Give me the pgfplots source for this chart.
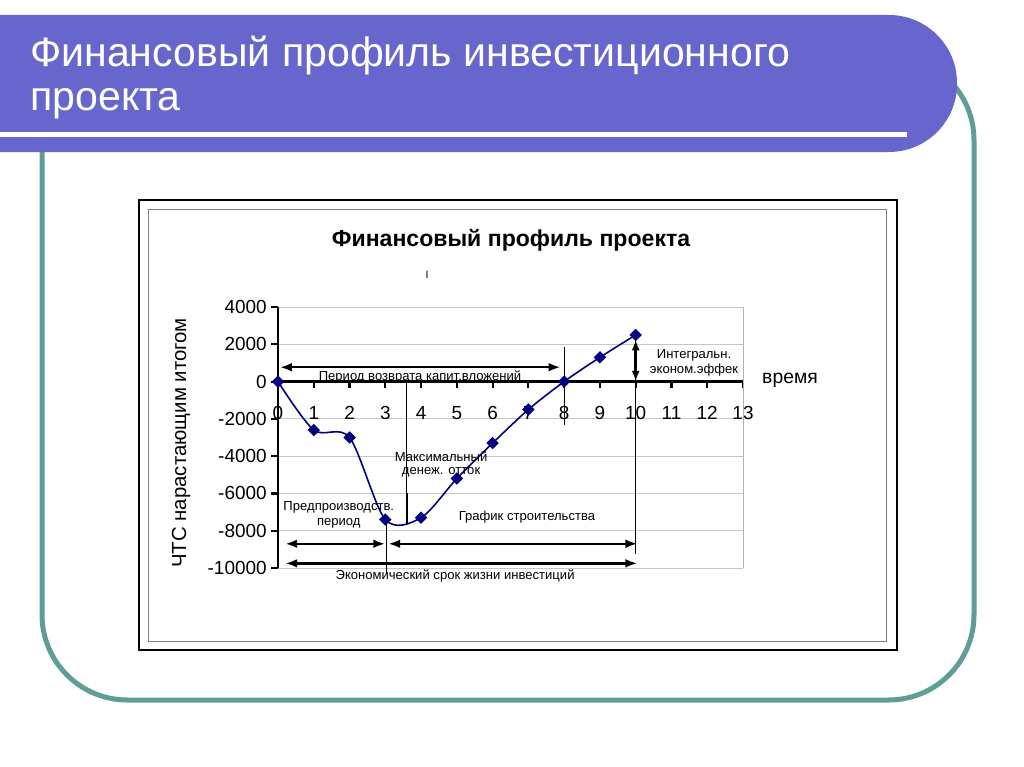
\documentclass[border=0pt]{standalone}
\usepackage{fontspec}
\setmainfont{Liberation Sans}
\usepackage{pgfplots}
\pgfplotsset{compat=1.18}
\usetikzlibrary{arrows.meta}
\definecolor{banner}{HTML}{6666CC}
\definecolor{frameteal}{HTML}{5F9E98}
\definecolor{navy}{HTML}{000080}

\begin{document}
\begin{tikzpicture}
% slide, in pixels of the 1024x767 picture
\begin{scope}[x=0.75pt,y=-0.75pt]
  \path[use as bounding box] (0,0) rectangle (1024,767);
  \fill[white] (0,0) rectangle (1024,767);
  \begin{scope}
    \clip (0,0) rectangle (1024,767);
    \draw[frameteal, line width=3.75pt, rounded corners=64pt] (42,55) rectangle (974,700);
    \fill[banner, rounded corners=51pt] (-120,15) rectangle (957,152);
  \end{scope}
  \fill[white] (0,132) rectangle (907,137);
  \node[anchor=base west, white, inner sep=0pt, font=\fontsize{30.8}{36}\selectfont] at (30,67) {Финансовый профиль инвестиционного};
  \node[anchor=base west, white, inner sep=0pt, font=\fontsize{30.8}{36}\selectfont] at (30,110) {проекта};
  % chart area
  \fill[white] (139,200) rectangle (897,650);
  \draw[line width=1.5pt] (139,200) rectangle (897,650);
  \draw[gray, line width=0.75pt] (148,209) rectangle (886,641);
  \node[font=\bfseries\fontsize{17.3}{20}\selectfont] at (511,240) {Финансовый профиль проекта};
  \node[font=\fontsize{8}{9}\selectfont] at (427,275) {I};
  \node[rotate=90, font=\fontsize{15.3}{18}\selectfont] at (181,443) {ЧТС нарастающим итогом};
  \node[font=\fontsize{14.5}{17}\selectfont] at (790,380) {время};
\end{scope}

\begin{axis}[
    at={(208.5pt,-426pt)}, anchor=south west,
    width=348.75pt, height=195.75pt, scale only axis,
    xmin=0, xmax=13, ymin=-10000, ymax=4000,
    axis x line=middle, axis y line=left,
    x axis line style={-, line width=2.2pt},
    y axis line style={-, line width=2pt},
    hide obscured x ticks=false,
    hide obscured y ticks=false,
    scaled y ticks=false,
    xtick={0,...,13},
    ytick={-10000,-8000,...,4000},
    yticklabels={-10000,-8000,-6000,-4000,-2000,0,2000,4000},
    xticklabels={0,1,2,3,4,5,6,7,8,9,10,11,12,13},
    tick align=outside,
    major tick length=5pt,
    tick style={black, line width=1.6pt},
    ymajorgrids,
    grid style={gray!45, line width=0.6pt},
    ticklabel style={font=\fontsize{14.2}{16}\selectfont},
    xticklabel style={yshift=-10pt},
    clip=false,
  ]
  \draw[gray!60, line width=0.6pt] (axis cs:13,-10000) -- (axis cs:13,4000);

  \addplot[navy, line width=1.2pt, smooth, mark=square*, mark size=2.7pt,
    mark options={fill=navy, draw=navy, rotate=45}] coordinates {
    (0,0) (1,-2600) (2,-3000) (3,-7400) (4,-7300) (5,-5200)
    (6,-3300) (7,-1500) (8,0) (9,1300) (10,2500)
  };

  % guide lines
  \draw[line width=0.6pt] (axis cs:8,1850) -- (axis cs:8,-2350);
  \draw[line width=0.6pt] (axis cs:3.6,0) -- (axis cs:3.6,-6000);
  \draw[line width=1.3pt] (axis cs:3.6,-6000) -- (axis cs:3.6,-7650);
  \draw[line width=0.6pt] (axis cs:3.03,-7400) -- (axis cs:3.03,-10300);
  \draw[line width=0.6pt] (axis cs:10,2450) -- (axis cs:10,-9250);

  % arrows
  \draw[{Latex[length=9pt,width=6.5pt]}-{Latex[length=9pt,width=6.5pt]}, line width=1.8pt]
    (axis cs:0.05,770) -- (axis cs:7.9,770);
  \draw[{Latex[length=8pt,width=6pt]}-{Latex[length=8pt,width=6pt]}, line width=1.8pt]
    (axis cs:10,2250) -- (axis cs:10,0);
  \draw[{Latex[length=9pt,width=6.5pt]}-{Latex[length=9pt,width=6.5pt]}, line width=1.8pt]
    (axis cs:0.2,-8700) -- (axis cs:3.0,-8700);
  \draw[{Latex[length=9pt,width=6.5pt]}-{Latex[length=9pt,width=6.5pt]}, line width=1.8pt]
    (axis cs:3.08,-8700) -- (axis cs:10.05,-8700);
  \draw[{Latex[length=9pt,width=6.5pt]}-{Latex[length=9pt,width=6.5pt]}, line width=1.8pt]
    (axis cs:0.2,-9750) -- (axis cs:10.05,-9750);

  % annotations
  \begin{scope}[every node/.style={font=\fontsize{9.8}{11}\selectfont, inner sep=0pt}]
    \node at (axis cs:3.97,270) {Период возврата капит.вложений};
    \node at (axis cs:4.56,-4020) {Максимальный};
    \node at (axis cs:4.56,-4880) {денеж. отток};
    \node at (axis cs:1.7,-6750) {Предпроизводств.};
    \node at (axis cs:1.7,-7610) {период};
    \node at (axis cs:6.96,-7290) {График строительства};
    \node at (axis cs:11.63,1390) {Интегральн.};
    \node at (axis cs:11.63,590) {эконом.эффек};
    \node at (axis cs:4.95,-10450) {Экономический срок жизни инвестиций};
  \end{scope}
\end{axis}
\end{tikzpicture}
\end{document}
